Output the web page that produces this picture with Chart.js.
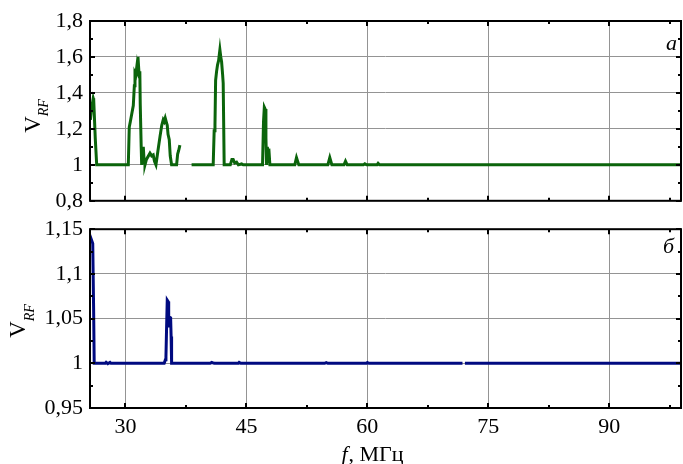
<!DOCTYPE html>
<html>
<head>
<meta charset="utf-8">
<script src="https://cdn.jsdelivr.net/npm/chart.js@4"></script>
<style>
  body { margin: 0; background: #fff; }
  #wrap { position: relative; width: 683px; height: 464px; }
  canvas { position: absolute; left: 0; }
  #top { top: 0; }
  #bot { top: 209px; }
</style>
</head>
<body>
<div id="wrap">
  <canvas id="top" width="683" height="221"></canvas>
  <canvas id="bot" width="683" height="255"></canvas>
</div>
<script>
const serif = "'Liberation Serif', 'Times New Roman', serif";

// панель а: частота, МГц / V_RF
const freqA = [25.65, 25.75, 26.0, 26.06, 26.25, 26.43, 28.0, 30.35, 30.47, 30.6, 30.97, 31.1, 31.18, 31.28, 31.39,
  31.47, 31.55, 31.62, 31.71, 31.78, 31.83, 31.95, 32.01, 32.12, 32.21, 32.3, 32.42, 32.6, 33.04, 33.25, 33.44,
  33.6, 33.78, 34.0, 34.28, 34.5, 34.68, 34.8, 34.93, 35.05, 35.18, 35.28, 35.43, 35.55, 35.72, 36.34, 36.47,
  36.6, 36.75, 36.76, 38.2, 40.88, 41.0, 41.1, 41.18, 41.3, 41.42, 41.55, 41.71, 41.82, 41.92, 42.05, 42.12,
  42.24, 43.0, 43.2, 43.36, 43.55, 43.78, 44.0, 44.4, 44.6, 47.0, 47.12, 47.22, 47.32, 47.42, 47.5, 47.6,
  47.7, 47.78, 47.91, 51.0, 51.21, 51.5, 55.1, 55.34, 55.6, 57.1, 57.29, 57.5, 59.5, 59.68, 59.9, 61.2, 61.33,
  61.5, 98.9];
const vrfA = [1.25, 1.30, 1.37, 1.36, 1.15, 1.00, 1.00, 1.00, 1.21, 1.24, 1.33, 1.44, 1.51, 1.50, 1.54,
  1.50, 1.60, 1.55, 1.49, 1.52, 1.34, 1.10, 1.00, 1.06, 1.10, 1.03, 1.00, 1.03, 1.065, 1.05, 1.055,
  1.02, 1.00, 1.07, 1.157, 1.22, 1.25, 1.24, 1.26, 1.24, 1.22, 1.17, 1.14, 1.05, 1.00, 1.00, 1.06,
  1.08, 1.11, null, 1.00, 1.00, 1.19, 1.22, 1.47, 1.52, 1.556, 1.58, 1.64, 1.60, 1.574, 1.50, 1.454,
  1.00, 1.00, 1.03, 1.03, 1.01, 1.015, 1.00, 1.005, 1.00, 1.00, 1.24, 1.32, 1.31, 1.15, 1.00, 1.10,
  1.02, 1.09, 1.00, 1.00, 1.04, 1.00, 1.00, 1.04, 1.00, 1.00, 1.02, 1.00, 1.00, 1.006, 1.00, 1.00, 1.008,
  1.00, 1.00];

// панель б
const freqB = [25.65, 25.72, 25.94, 26.05, 26.12, 27.5, 27.6, 27.8, 28.08, 28.2, 34.8, 34.95, 35.02, 35.1, 35.18,
  35.3, 35.36, 35.43, 35.6, 35.66, 35.72, 40.5, 40.7, 41.0, 44.0, 44.1, 44.3, 54.7, 54.9, 55.1, 59.9, 60.0, 60.2,
  71.8, 71.85, 72.1, 98.9];
const vrfB = [1.138, 1.1396, 1.134, 1.06, 1.00, 1.00, 1.001, 0.9995, 1.001, 1.00, 1.00, 1.004, 1.0074, 1.04, 1.0707,
  1.069, 1.04, 1.052, 1.051, 1.03, 1.00, 1.00, 1.001, 1.00, 1.00, 1.001, 1.00, 1.00, 1.0008, 1.00, 1.00, 1.0008, 1.00,
  1.00, null, 1.00, 1.00];

const xTicks = [30, 45, 60, 75, 90];
const xMinor = [37.5, 52.5, 67.5, 82.5, 97.5];
const yTicksA = [0.8, 1, 1.2, 1.4, 1.6, 1.8];
const yMinorA = [0.9, 1.1, 1.3, 1.5, 1.7];
const yTicksB = [0.95, 1, 1.05, 1.1, 1.15];
const yMinorB = [0.975, 1.025, 1.075, 1.125];

const fmt = v => String(v).replace('.', ',');

// рамка, внутренние штрихи и подписи
const frame = {
  id: 'frame',
  afterDraw(chart, args, o) {
    const { ctx, chartArea: a, scales: { x, y } } = chart;
    ctx.save();
    ctx.strokeStyle = '#000';
    ctx.lineWidth = 2;
    ctx.beginPath();
    const vx = (vals, len) => vals.forEach(v => {
      const p = Math.round(x.getPixelForValue(v));
      ctx.moveTo(p, a.top); ctx.lineTo(p, a.top + len);
      ctx.moveTo(p, a.bottom); ctx.lineTo(p, a.bottom - len);
    });
    const vy = (vals, len) => vals.forEach(v => {
      const p = Math.round(y.getPixelForValue(v));
      ctx.moveTo(a.left, p); ctx.lineTo(a.left + len, p);
      ctx.moveTo(a.right, p); ctx.lineTo(a.right - len, p);
    });
    vx(xTicks, 5); vx(xMinor, 3);
    vy(o.yTicks, 5); vy(o.yMinor, 3);
    ctx.stroke();
    ctx.strokeRect(a.left, a.top, a.right - a.left, a.bottom - a.top);

    ctx.fillStyle = '#000';
    ctx.textBaseline = 'alphabetic';
    // V_RF
    ctx.save();
    ctx.translate(o.labX, o.labY);
    ctx.rotate(-Math.PI / 2);
    ctx.font = `23px ${serif}`;
    const w1 = ctx.measureText('V').width;
    ctx.font = `italic 14px ${serif}`;
    const w2 = ctx.measureText('RF').width;
    const s = -(w1 + w2) / 2;
    ctx.font = `23px ${serif}`;
    ctx.fillText('V', s, 0);
    ctx.font = `italic 14px ${serif}`;
    ctx.fillText('RF', s + w1, o.sub);
    ctx.restore();

    // буква панели
    ctx.font = `italic 22px ${serif}`;
    ctx.textAlign = 'right';
    ctx.fillText(o.letter, o.letX, o.letY);

    if (o.title) {
      ctx.textAlign = 'left';
      ctx.font = `italic 22px ${serif}`;
      const a1 = ctx.measureText('f').width;
      ctx.font = `22px ${serif}`;
      const a2 = ctx.measureText(', МГц').width;
      const st = o.titleX - (a1 + a2) / 2;
      ctx.font = `italic 22px ${serif}`;
      ctx.fillText('f', st, o.titleY);
      ctx.font = `22px ${serif}`;
      ctx.fillText(', МГц', st + a1 + 1, o.titleY);
    }
    ctx.restore();
  }
};

function panel(id, xs, ys, color, yMin, yMax, yTicks, deco, padTop, xHeight, showX) {
  return new Chart(document.getElementById(id), {
    type: 'line',
    data: {
      datasets: [{
        data: xs.map((f, i) => ({ x: f, y: ys[i] })),
        borderColor: color,
        borderWidth: 3,
        pointRadius: 0,
        tension: 0,
        spanGaps: false
      }]
    },
    options: {
      responsive: false,
      animation: false,
      events: [],
      layout: { padding: { top: padTop, right: 2, left: 0, bottom: 0 } },
      plugins: { legend: { display: false }, tooltip: { enabled: false }, frame: deco },
      scales: {
        x: {
          type: 'linear', min: 25.6, max: 98.9,
          afterBuildTicks: s => { s.ticks = xTicks.map(v => ({ value: v })); },
          afterFit: s => { s.height = xHeight; },
          grid: { color: '#949494', lineWidth: 1, drawTicks: false },
          border: { display: false },
          ticks: { display: showX, color: '#000', padding: 6, font: { family: serif, size: 22 }, maxRotation: 0 }
        },
        y: {
          min: yMin, max: yMax,
          afterBuildTicks: s => { s.ticks = yTicks.map(v => ({ value: v })); },
          afterFit: s => { s.width = 90; },
          grid: { color: '#949494', lineWidth: 1, drawTicks: false },
          border: { display: false },
          ticks: { color: '#000', padding: 7, font: { family: serif, size: 22 }, callback: v => fmt(v) }
        }
      }
    },
    plugins: [frame]
  });
}

panel('top', freqA, vrfA, '#0b640b', 0.8, 1.8, yTicksA,
  { yTicks: yTicksA, yMinor: yMinorA, labX: 40, labY: 116, sub: 8, letter: 'а', letX: 677, letY: 50 },
  21, 14, false);

panel('bot', freqB, vrfB, '#000a80', 0.95, 1.15, yTicksB,
  { yTicks: yTicksB, yMinor: yMinorB, labX: 25, labY: 112, sub: 9, letter: 'б', letX: 674, letY: 44,
    title: true, titleX: 372, titleY: 252 },
  14, 56, true);
</script>
</body>
</html>
